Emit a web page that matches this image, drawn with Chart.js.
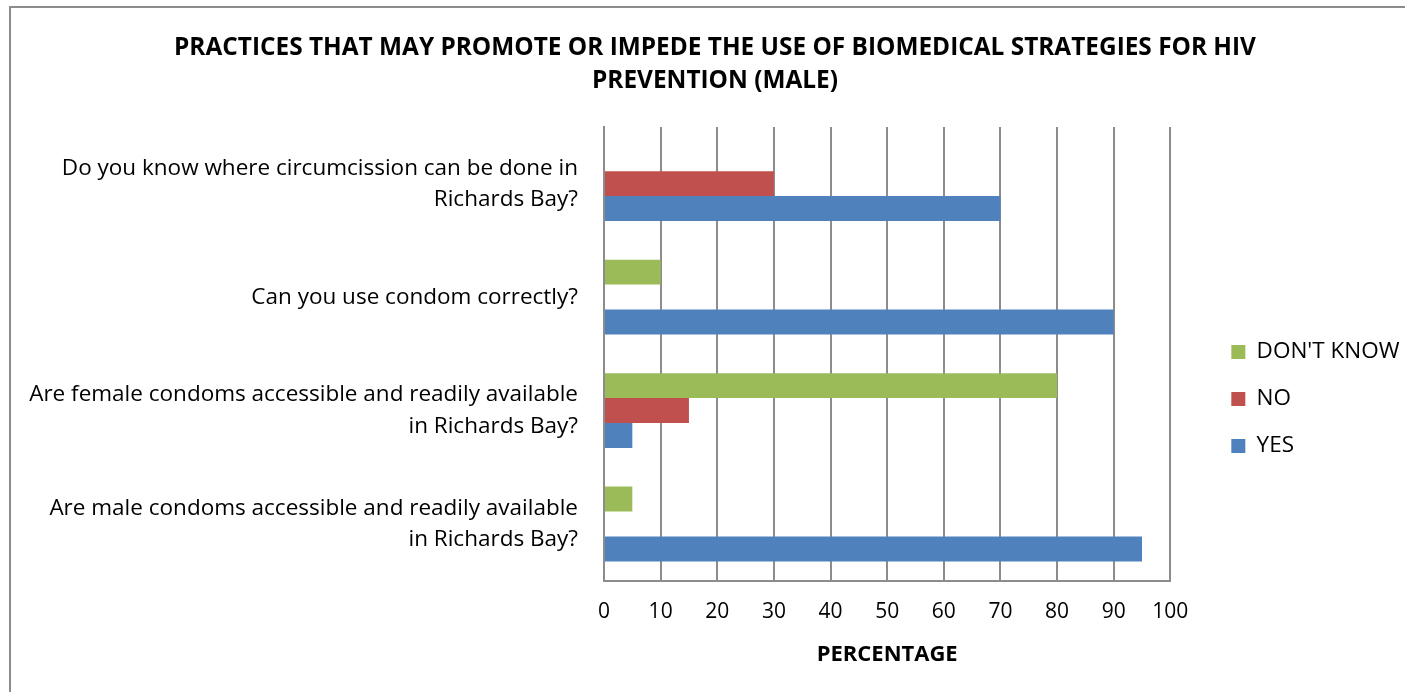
<!DOCTYPE html>
<html>
<head>
<meta charset="utf-8">
<script src="https://cdn.jsdelivr.net/npm/chart.js"></script>
<style>
  html, body { margin: 0; padding: 0; background: #fff; overflow: hidden; }
  #frame { position: absolute; left: 9px; top: 6px; width: 1420px; height: 720px; border: 2px solid #8c8c8c; box-sizing: border-box; }
  #wrap { position: absolute; left: 0; top: 0; width: 1405px; height: 692px; }
</style>
</head>
<body>
<div id="frame"></div>
<div id="wrap"><canvas id="chart"></canvas></div>
<script>
// questions, top to bottom
const questions = [
  ["Do you know where circumcission can be done in", "Richards Bay?"],
  ["Can you use condom correctly?"],
  ["Are female condoms accessible and readily available", "in Richards Bay?"],
  ["Are male condoms accessible and readily available", "in Richards Bay?"]
];
const dontKnow = [0, 10, 80, 5];
const no = [30, 0, 15, 0];
const yes = [70, 90, 5, 95];
const xTicks = [0, 10, 20, 30, 40, 50, 60, 70, 80, 90, 100];

const FONT = "Open Sans";
const grey = "#8c8c8c";

// move legend and title a bit, as in the Excel original
const nudge = {
  id: "nudge",
  afterLayout(chart) {
    const lg = chart.legend, t = chart.titleBlock, a = chart.chartArea;
    const dx = a.right + 36.5 - lg.left;
    lg.left += dx; lg.right += dx;
    lg.top += 48; lg.bottom += 48;
    const tx = 715 - (t.left + t.right) / 2;
    t.left += tx; t.right += tx;
  }
};

new Chart(document.getElementById("chart"), {
  type: "bar",
  data: {
    labels: questions,
    datasets: [
      { label: "DON'T KNOW", data: dontKnow, backgroundColor: "#9BBB59" },
      { label: "NO", data: no, backgroundColor: "#C0504D" },
      { label: "YES", data: yes, backgroundColor: "#4F81BD" }
    ]
  },
  plugins: [nudge],
  options: {
    indexAxis: "y",
    responsive: true,
    maintainAspectRatio: false,
    animation: false,
    categoryPercentage: 0.66,
    barPercentage: 1,
    layout: { padding: { left: 20, right: 32, top: 32, bottom: 22 } },
    plugins: {
      title: {
        display: true,
        text: ["PRACTICES THAT MAY PROMOTE OR IMPEDE THE USE OF BIOMEDICAL STRATEGIES FOR HIV", "PREVENTION (MALE)"],
        color: "#000",
        font: { family: FONT, size: 24.4, weight: "bold", lineHeight: 1.35 },
        padding: { top: 0, bottom: 29 }
      },
      legend: {
        position: "right",
        labels: {
          color: "#000",
          font: { family: FONT, size: 22.5 },
          boxWidth: 14,
          boxHeight: 14,
          padding: 24.5
        }
      },
      tooltip: { enabled: false }
    },
    scales: {
      x: {
        min: 0,
        max: 100,
        afterBuildTicks: s => { s.ticks = xTicks.map(v => ({ value: v })); },
        grid: { color: grey, lineWidth: 2, drawTicks: false },
        border: { color: grey, width: 2 },
        ticks: { color: "#000", font: { family: FONT, size: 21 }, padding: 19 },
        title: {
          display: true,
          text: "PERCENTAGE",
          color: "#000",
          font: { family: FONT, size: 22, weight: "bold", lineHeight: 1.0 },
          padding: { top: 0, bottom: 4 }
        }
      },
      y: {
        afterFit: s => { s.width = 604 - 20; },
        grid: { display: false },
        border: { color: grey, width: 2 },
        ticks: { color: "#000", font: { family: FONT, size: 22.5, lineHeight: 1.38 }, padding: 18 }
      }
    }
  }
});
</script>
</body>
</html>
